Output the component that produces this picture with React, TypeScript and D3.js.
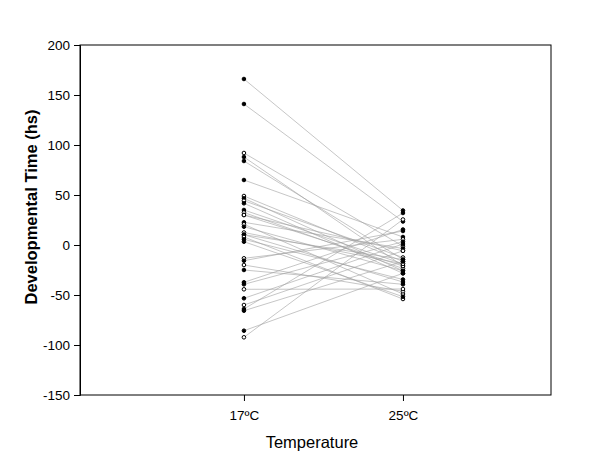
import { useEffect, useRef } from "react";
import * as d3 from "d3";

// temperature categories
const categories = ["17ºC", "25ºC"];
const yTicks = [-150, -100, -50, 0, 50, 100, 150, 200];

// developmental time per individual line at each temperature (same order)
const at17 = [
  166, 141, 92, 88, 84, 65, 49, 46.7, 44.3, 41.7, 35, 32.5, 30, 30, 22.7, 20.7, 18.3, 12.5,
  10.3, 10.3, 8, 5.7, 3.3, -13.3, -15.7, -20, -25, -37.3, -39.3, -44.3, -53.3, -60, -64,
  -65.7, -85.7, -92.3,
];
const at25 = [
  34.5, 23.5, -1.2, -21, -14.5, 8, -16.5, -25.8, -12.5, -28.3, -18.8, -23.5, -5.8, -21, -3.5,
  -49, -25.8, -18.8, -37, -14.5, -54, -34.5, -51.7, 5.7, 14, -46.3, -39.3, 15.5, 3.3, -44, 1,
  -5.8, 32, -16.5, -28.3, 25.5,
];
// marker symbol: filled dot or open circle
const filled = [
  true, true, false, true, true, true, false, true, false, true, true, false, true, false, true,
  false, true, false, true, true, false, true, true, false, true, false, true, true, true, false,
  true, false, true, true, true, false,
];

export default function App() {
  const svgRef = useRef<SVGSVGElement>(null);

  useEffect(() => {
    const svg = d3.select(svgRef.current);
    svg.selectAll("*").remove();

    const left = 80;
    const right = 551;
    const top = 45;
    const bottom = 395;

    const x = d3.scaleLinear().domain([-0.031, 2.931]).range([left, right]);
    const y = d3.scaleLinear().domain([-150, 200]).range([bottom, top]);

    const font = "'Liberation Sans', Arial, sans-serif";

    // frame
    svg
      .append("rect")
      .attr("x", left)
      .attr("y", top)
      .attr("width", right - left)
      .attr("height", bottom - top)
      .attr("fill", "none")
      .attr("stroke", "#000")
      .attr("stroke-width", 1);

    // y axis
    const yAxis = svg
      .append("g")
      .attr("transform", `translate(${left},0)`)
      .call(d3.axisLeft(y).tickValues(yTicks).tickSize(6).tickPadding(4).tickFormat((d) => String(d)));
    yAxis.select(".domain").attr("stroke", "#000");
    yAxis.selectAll("text").attr("font-family", font).attr("font-size", 13.5).attr("fill", "#000");

    // x axis
    const xAxis = svg
      .append("g")
      .attr("transform", `translate(0,${bottom})`)
      .call(
        d3
          .axisBottom(x)
          .tickValues([1, 2])
          .tickSize(6)
          .tickPadding(9)
          .tickFormat((d) => categories[(d as number) - 1])
      );
    xAxis.select(".domain").remove();
    xAxis.selectAll("text").attr("font-family", font).attr("font-size", 13.5).attr("fill", "#000");

    // connecting lines
    svg
      .append("g")
      .selectAll("line")
      .data(at17)
      .join("line")
      .attr("x1", x(1))
      .attr("x2", x(2))
      .attr("y1", (d) => y(d))
      .attr("y2", (_, i) => y(at25[i]))
      .attr("stroke", "#a0a0a0")
      .attr("stroke-width", 0.6);

    // markers
    const drawMarkers = (vals: number[], pos: number) => {
      svg
        .append("g")
        .selectAll("circle")
        .data(vals)
        .join("circle")
        .attr("cx", x(pos))
        .attr("cy", (d) => y(d))
        .attr("r", 1.8)
        .attr("fill", (_, i) => (filled[i] ? "#000" : "#fff"))
        .attr("stroke", "#000")
        .attr("stroke-width", 1);
    };
    drawMarkers(at17, 1);
    drawMarkers(at25, 2);

    // titles
    svg
      .append("text")
      .attr("transform", `translate(37,207) rotate(-90)`)
      .attr("text-anchor", "middle")
      .attr("font-family", font)
      .attr("font-size", 16.5)
      .attr("font-weight", "bold")
      .text("Developmental Time (hs)");

    svg
      .append("text")
      .attr("x", 312)
      .attr("y", 448)
      .attr("text-anchor", "middle")
      .attr("font-family", font)
      .attr("font-size", 16.5)
      .text("Temperature");
  }, []);

  return (
    <svg
      ref={svgRef}
      width={600}
      height={469}
      style={{ position: "absolute", left: 0, top: 0, background: "#fff" }}
    />
  );
}
